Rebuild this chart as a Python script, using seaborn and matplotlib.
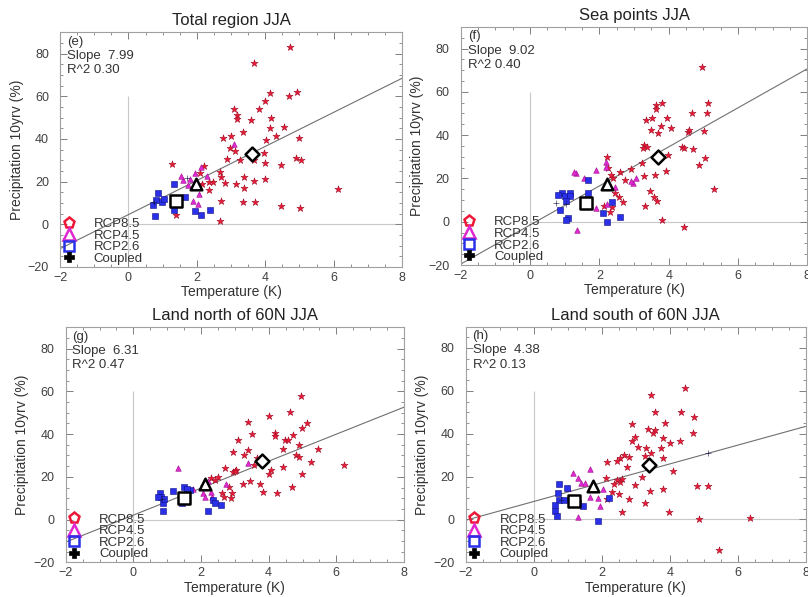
import numpy as np
import pandas as pd
import matplotlib
matplotlib.use("Agg")
import matplotlib.pyplot as plt
from matplotlib.lines import Line2D
from matplotlib.ticker import MultipleLocator
import seaborn as sns

# ---- data ----
titles = ["Total region JJA", "Sea points JJA", "Land north of 60N JJA", "Land south of 60N JJA"]
tags = ["(e)", "(f)", "(g)", "(h)"]
slopes = [7.99, 9.02, 6.31, 4.38]
r2 = [0.30, 0.40, 0.47, 0.13]
intercepts = [4.5, -1.5, 2.1, 8.4]

# RCP8.5 members
e85 = [(4.73, 83.1), (3.67, 75.8), (4.14, 61.3), (4.70, 60.3), (4.94, 62.0), (3.99, 57.7), (3.82, 53.8),
       (3.08, 53.9), (3.17, 51.4), (3.17, 49.5), (3.57, 48.8), (4.18, 49.8), (4.55, 45.6), (4.15, 44.9),
       (3.34, 43.0), (2.77, 40.6), (3.00, 41.4), (4.02, 39.4), (4.32, 41.4), (5.00, 40.6), (2.98, 35.9),
       (3.13, 34.4), (2.88, 30.8), (3.26, 29.9), (3.68, 30.0), (3.96, 33.6), (3.98, 28.5), (4.47, 27.7),
       (4.90, 31.1), (5.05, 30.2), (1.26, 28.0), (2.20, 27.2), (2.69, 24.5), (2.72, 22.2), (3.37, 22.0),
       (3.66, 20.2), (3.98, 21.0), (2.48, 19.8), (2.83, 19.3), (3.15, 18.9), (3.38, 17.2), (2.37, 15.9),
       (6.13, 16.6), (3.36, 10.2), (3.69, 10.3), (2.72, 10.9), (4.47, 8.4), (5.01, 7.7), (2.69, 1.6),
       (2.10, 24.0), (2.35, 20.0), (2.15, 19.0), (1.40, 4.5)]
f85 = [(4.95, 71.3), (5.13, 54.9), (5.10, 50.3), (3.80, 54.9), (3.63, 53.9), (3.62, 52.0), (3.34, 46.9),
       (3.51, 47.7), (3.94, 48.0), (4.67, 50.0), (3.77, 44.3), (4.06, 43.4), (3.48, 42.6), (4.57, 41.5),
       (4.58, 42.6), (5.02, 41.9), (3.70, 41.0), (3.29, 35.4), (3.25, 33.9), (3.36, 34.7), (4.38, 34.7),
       (4.44, 33.9), (4.69, 33.4), (3.97, 30.9), (3.22, 27.2), (5.06, 29.5), (4.87, 26.3), (3.92, 23.4),
       (3.60, 21.7), (3.29, 21.3), (2.91, 24.2), (5.32, 14.9), (3.45, 14.2), (3.59, 11.5), (3.66, 9.5),
       (3.33, 7.4), (3.82, 0.8), (4.45, -2.4), (2.23, 30.0), (2.25, 25.0), (2.33, 21.6), (2.40, 20.0),
       (2.46, 13.1), (2.56, 11.6), (2.69, 9.2), (2.35, 6.8), (2.30, 4.6), (2.14, 7.4), (2.60, 22.8),
       (2.75, 19.5)]
g85 = [(4.95, 57.9), (4.01, 48.5), (4.64, 50.4), (3.38, 45.7), (5.12, 45.4), (4.99, 42.8), (3.52, 40.1),
       (4.19, 40.4), (4.19, 39.2), (4.72, 39.5), (4.49, 37.3), (4.58, 37.3), (3.08, 37.0), (4.43, 33.2),
       (4.90, 35.0), (5.46, 33.1), (3.40, 32.6), (2.94, 31.4), (3.28, 30.3), (4.82, 30.1), (4.90, 29.5),
       (3.65, 28.6), (5.26, 27.0), (6.23, 25.6), (4.41, 24.8), (3.58, 25.6), (2.72, 24.0), (4.06, 23.3),
       (2.94, 22.2), (3.04, 23.0), (4.01, 21.2), (4.98, 21.2), (2.50, 19.7), (3.23, 16.6), (3.46, 18.1),
       (3.74, 16.8), (4.68, 15.2), (2.84, 15.3), (3.82, 13.1), (4.26, 12.4), (2.63, 12.4), (2.92, 12.4),
       (2.67, 10.8), (2.88, 10.0), (2.30, 19.5), (2.40, 18.5), (3.00, 22.5)]
h85 = [(4.45, 61.5), (3.44, 58.0), (3.57, 50.2), (4.32, 50.2), (4.71, 47.7), (4.68, 40.3), (2.88, 44.5),
       (3.37, 42.4), (3.57, 41.7), (3.51, 40.3), (3.86, 44.8), (3.79, 37.9), (4.01, 35.6), (4.30, 36.7),
       (2.98, 38.7), (2.88, 36.4), (2.79, 29.1), (3.08, 34.0), (3.30, 33.2), (3.28, 29.5), (3.73, 33.2),
       (3.81, 28.7), (3.46, 31.1), (2.66, 30.3), (2.54, 28.7), (2.46, 27.2), (2.15, 26.9), (2.75, 24.7),
       (3.19, 20.0), (4.11, 22.4), (2.98, 16.2), (3.42, 13.4), (3.81, 14.1), (4.79, 15.4), (5.12, 15.7),
       (3.26, 7.6), (3.98, 3.4), (2.59, 3.4), (4.86, 0.2), (6.36, 0.5), (5.46, -14.4), (2.12, 19.3),
       (2.45, 18.5), (2.55, 17.5), (2.60, 19.0), (2.29, 12.6), (2.15, 9.6), (2.50, 11.9), (2.79, 9.4),
       (2.35, 16.5)]

# RCP4.5 members
e45 = [(1.80, 21.1), (2.12, 26.9), (2.04, 9.7), (1.89, 11.0), (1.75, 18.5), (2.05, 14.0), (1.60, 20.5),
       (1.55, 22.5), (2.30, 22.5), (1.95, 24.0), (3.10, 37.5)]
f45 = [(1.32, 22.3), (1.28, 23.0), (1.90, 24.0), (2.98, 17.7), (3.07, 20.0), (2.90, 19.0), (1.89, 6.5),
       (1.35, -3.8), (2.23, 8.3), (2.20, 27.5), (2.20, 25.5), (1.55, 20.0), (2.45, 16.0)]
g45 = [(1.32, 24.0), (2.11, 15.5), (2.06, 12.4), (2.11, 10.8), (2.33, 10.8), (2.74, 16.6), (3.38, 26.6),
       (2.20, 18.0), (1.75, 14.5), (2.30, 13.0)]
h45 = [(1.15, 21.6), (1.66, 23.4), (1.30, 19.3), (1.39, 16.8), (1.90, 10.2), (1.95, 6.3), (1.30, 1.0),
       (1.66, 10.7), (2.05, 14.0), (1.50, 17.0), (1.00, 14.5)]

# RCP2.6 members
e26 = [(0.85, 14.7), (0.97, 10.2), (0.73, 9.0), (0.77, 3.8), (1.32, 18.8), (2.38, 6.6), (1.94, 6.1),
       (2.12, 4.1), (1.66, 12.8), (1.34, 6.6), (0.80, 11.5), (1.05, 12.0)]
f26 = [(0.91, 13.1), (1.01, 12.0), (1.14, 13.4), (1.14, 11.9), (1.05, 9.6), (0.85, 5.4), (1.10, 1.9),
       (1.05, 0.8), (1.66, 19.2), (1.68, 13.1), (2.10, 3.9), (2.23, 0.0), (2.60, 2.3), (2.36, 9.1),
       (0.80, 12.5)]
g26 = [(0.78, 12.4), (0.83, 10.8), (0.73, 10.8), (0.87, 7.7), (0.87, 3.8), (1.16, 13.5), (1.51, 15.2),
       (1.66, 13.9), (2.20, 3.8), (2.58, 6.9), (2.35, 9.2), (2.40, 7.7), (1.43, 7.7), (0.90, 9.5),
       (1.60, 14.5)]
h26 = [(0.73, 16.5), (0.70, 12.3), (0.73, 9.2), (0.64, 6.9), (0.62, 3.9), (0.67, 1.6), (0.98, 14.8),
       (1.88, -0.5), (2.22, 10.0), (1.31, 7.7), (1.45, 6.5), (0.90, 9.0), (1.10, 8.5)]

# coupled runs
ecp = [(0.75, 10.5), (1.70, 21.5)]
fcp = [(0.75, 8.5), (1.05, 8.0)]
gcp = [(0.85, 9.5), (2.05, 16.0)]
hcp = [(5.14, 31.2), (0.80, 9.0)]

# ensemble means: RCP8.5, RCP4.5, RCP2.6
means85 = [(3.60, 33.0), (3.68, 29.7), (3.79, 27.5), (3.40, 25.5)]
means45 = [(1.97, 18.7), (2.21, 17.4), (2.12, 16.6), (1.75, 15.4)]
means26 = [(1.39, 10.9), (1.62, 8.6), (1.49, 10.0), (1.17, 8.4)]

members = [(e85, e45, e26, ecp), (f85, f45, f26, fcp), (g85, g45, g26, gcp), (h85, h45, h26, hcp)]
scen_names = ["RCP8.5", "RCP4.5", "RCP2.6", "Coupled"]

palette = {"RCP8.5": "#ee1836", "RCP4.5": "#e028d0", "RCP2.6": "#2a30e8", "Coupled": "#181848"}
small_markers = {"RCP8.5": "*", "RCP4.5": "^", "RCP2.6": "s", "Coupled": "+"}
edge_cols = {"RCP8.5": "#a01028", "RCP4.5": "#a01090", "RCP2.6": "#101080", "Coupled": "#181848"}
sizes = {"RCP8.5": 28, "RCP4.5": 16, "RCP2.6": 13, "Coupled": 22}

# axes boxes in figure fractions [left, bottom, width, height]
boxes = [[0.0743, 0.553, 0.4233, 0.393],
         [0.5702, 0.556, 0.4290, 0.399],
         [0.0813, 0.058, 0.4187, 0.394],
         [0.5764, 0.058, 0.4208, 0.395]]

sns.set_style("ticks")
plt.rcParams["font.family"] = ["Liberation Sans", "DejaVu Sans"]
plt.rcParams["xtick.direction"] = "in"
plt.rcParams["ytick.direction"] = "in"

fig = plt.figure(figsize=(8.08, 5.97), dpi=100)

for i in range(4):
    ax = fig.add_axes(boxes[i])

    ax.vlines(0, -20, 60, color="#c8c8c8", lw=0.8, zorder=0)
    ax.hlines(0, 0, 8, color="#c8c8c8", lw=0.8, zorder=0)
    ax.axline((0, intercepts[i]), slope=slopes[i], color="#707070", lw=0.8, zorder=1)

    for name, pts in zip(scen_names, members[i]):
        df = pd.DataFrame(pts, columns=["x", "y"])
        sns.scatterplot(data=df, x="x", y="y", marker=small_markers[name], s=sizes[name],
                        color=palette[name], edgecolor=edge_cols[name], linewidth=0.4,
                        legend=False, ax=ax, zorder=2)

    for (mx, my), mk, sz in zip([means85[i], means45[i], means26[i]], ["D", "^", "s"], [50, 70, 65]):
        sns.scatterplot(x=[mx], y=[my], marker=mk, s=sz, facecolor="white",
                        edgecolor="black", linewidth=1.8, ax=ax, zorder=3)

    ax.set_xlim(-2, 8)
    ax.set_ylim(-20, 90)
    ax.xaxis.set_major_locator(MultipleLocator(2))
    ax.xaxis.set_minor_locator(MultipleLocator(0.5))
    ax.yaxis.set_minor_locator(MultipleLocator(5))
    ax.set_yticks([-20, 0, 20, 40, 60, 80])
    ax.tick_params(which="both", top=True, right=True, colors="#808080",
                   labelcolor="#404040", labelsize=9)
    ax.tick_params(axis="y", which="major", pad=8)
    ax.tick_params(which="major", length=5, width=0.7)
    ax.tick_params(which="minor", length=2.5, width=0.6)
    for sp in ax.spines.values():
        sp.set_color("#a0a0a0")
        sp.set_linewidth(0.8)

    ax.set_title(titles[i], fontsize=12, color="#222222", pad=5)
    ax.set_xlabel("Temperature (K)", fontsize=10, color="#333333", labelpad=1)
    ax.set_ylabel("Precipitation 10yrv (%)", fontsize=10, color="#333333", labelpad=3)

    ax.text(0.02, 0.985, f"{tags[i]}\nSlope  {slopes[i]:.2f}\nR^2 {r2[i]:.2f}",
            transform=ax.transAxes, va="top", ha="left", fontsize=9.5,
            color="#333333", linespacing=1.25)

    handles = [
        Line2D([], [], ls="none", marker="p", ms=8, mfc="none", mec=palette["RCP8.5"], mew=1.8),
        Line2D([], [], ls="none", marker="^", ms=8, mfc="none", mec=palette["RCP4.5"], mew=1.8),
        Line2D([], [], ls="none", marker="s", ms=7, mfc="none", mec=palette["RCP2.6"], mew=1.8),
        Line2D([], [], ls="none", marker="P", ms=7, mfc="black", mec="black", mew=0.5),
    ]
    ax.legend(handles, scen_names, loc="lower left", frameon=False, fontsize=9.5,
              handlelength=1.0, handletextpad=1.4, labelspacing=-0.05,
              borderaxespad=0.0, borderpad=0.15, labelcolor="#333333")

fig.savefig("out.png", dpi=100)
